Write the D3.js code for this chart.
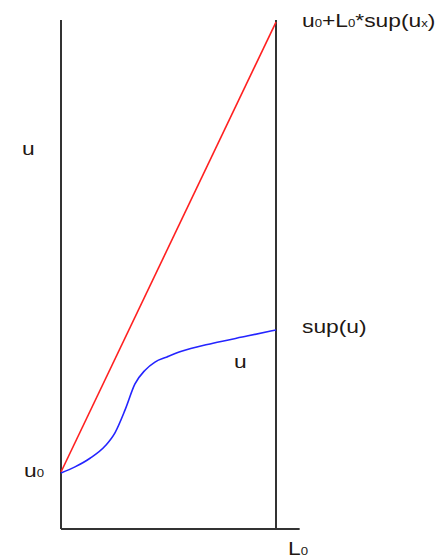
<!DOCTYPE html>
<html><head><meta charset="utf-8">
<script src="https://cdn.jsdelivr.net/npm/d3@7/dist/d3.min.js"></script>
<style>body{margin:0;background:#fff;} svg{display:block;} text{font-family:"Liberation Sans",Arial,sans-serif;fill:#221814;}</style>
</head><body>
<script>
const xs = [0, 0.065, 0.135, 0.205, 0.251, 0.298, 0.344, 0.391, 0.437, 0.493, 0.553, 0.707, 0.865, 1];
const uValues = [11.0, 12.2, 13.9, 16.3, 18.9, 23.4, 28.5, 31.2, 32.8, 33.8, 34.8, 36.5, 37.9, 39.1];
const boundX = [0, 1];
const boundValues = [11.2, 99.6];

const W = 438, H = 560;
const svg = d3.select("body").append("svg").attr("width", W).attr("height", H);
const x = d3.scaleLinear().domain([0, 1]).range([61, 276]);
const y = d3.scaleLinear().domain([0, 100]).range([529, 20]);

// axes
svg.append("line").attr("x1", x(0)).attr("x2", x(0)).attr("y1", y(100)).attr("y2", y(0)).attr("stroke", "#333").attr("stroke-width", 2);
svg.append("line").attr("x1", x(0)).attr("x2", x(1.11)).attr("y1", y(0)).attr("y2", y(0)).attr("stroke", "#333").attr("stroke-width", 2);
svg.append("line").attr("x1", x(1)).attr("x2", x(1)).attr("y1", y(100)).attr("y2", y(0)).attr("stroke", "#333").attr("stroke-width", 2);

// red bound line
const line = d3.line().x(d => x(d[0])).y(d => y(d[1]));
svg.append("path").datum(d3.zip(boundX, boundValues)).attr("d", line).attr("fill", "none").attr("stroke", "#ff2020").attr("stroke-width", 1.6);

// blue curve
const curve = d3.line().x(d => x(d[0])).y(d => y(d[1])).curve(d3.curveMonotoneX);
svg.append("path").datum(d3.zip(xs, uValues)).attr("d", curve).attr("fill", "none").attr("stroke", "#2424ff").attr("stroke-width", 1.6);

function label(px, py, parts) {
  const t = svg.append("text").attr("transform", `translate(${px},${py}) scale(1.2,1)`).attr("font-size", 19);
  parts.forEach(p => {
    if (p.sub) {
      t.append("tspan").attr("font-size", 11).text(p.t);
    } else {
      t.append("tspan").text(p.t);
    }
  });
  return t;
}
label(22, 155, [{t: "u"}]);
label(24, 477, [{t: "u"}, {t: "0", sub: true}]);
label(234, 368, [{t: "u"}]);
label(302, 333, [{t: "sup(u)"}]);
label(302, 27, [{t: "u"}, {t: "0", sub: true}, {t: "+L"}, {t: "0", sub: true}, {t: "*sup(u"}, {t: "x", sub: true}, {t: ")"}]);
label(288, 555, [{t: "L"}, {t: "0", sub: true}]);
</script>
</body></html>
